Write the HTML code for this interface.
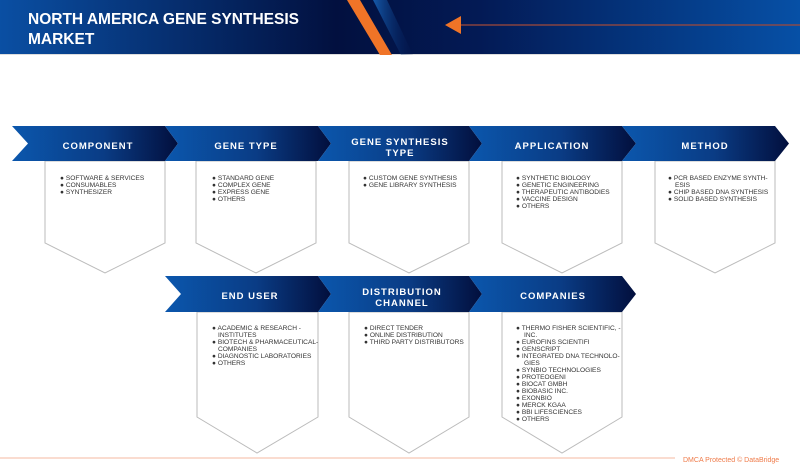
<!DOCTYPE html>
<html><head><meta charset="utf-8"><style>
html,body{margin:0;padding:0;background:#fff;}
svg{display:block;}
.h{font-family:"Liberation Sans",sans-serif;font-weight:bold;font-size:9.5px;fill:#fff;letter-spacing:1px;text-anchor:middle;}
.t{font-family:"Liberation Sans",sans-serif;font-size:6.6px;fill:#333;}
</style></head><body>
<svg width="800" height="473" viewBox="0 0 800 473" xmlns="http://www.w3.org/2000/svg">
<defs>
<linearGradient id="hd" x1="0" y1="0" x2="1" y2="0">
<stop offset="0" stop-color="#0a4fa3"/><stop offset="0.42" stop-color="#02103f"/><stop offset="0.6" stop-color="#031a55"/><stop offset="1" stop-color="#0650a6"/>
</linearGradient>
<linearGradient id="cg" x1="0" y1="0" x2="1" y2="0">
<stop offset="0" stop-color="#0b57ad"/><stop offset="0.55" stop-color="#0a3c85"/><stop offset="1" stop-color="#020f3d"/>
</linearGradient>
<linearGradient id="bs" x1="0" y1="0" x2="1" y2="0">
<stop offset="0" stop-color="#1a6cc4" stop-opacity="0.8"/><stop offset="1" stop-color="#031a55" stop-opacity="0.1"/>
</linearGradient>
</defs>
<rect x="0" y="0" width="800" height="54" fill="url(#hd)"/>
<line x1="0" y1="54.5" x2="800" y2="54.5" stroke="#ddd"/>
<polygon points="373,0 387,0 413,55 401,55" fill="url(#bs)"/>
<polygon points="347,0 360,0 392,55 380,55" fill="#f07427"/>
<polygon points="445,25 461,16 461,34" fill="#f07427"/>
<line x1="461" y1="25" x2="800" y2="25" stroke="#a24a3a" stroke-width="1.2"/>
<text x="28" y="24" font-family="Liberation Sans,sans-serif" font-weight="bold" font-size="15.5" fill="#fff">NORTH AMERICA GENE SYNTHESIS</text>
<text x="28" y="44" font-family="Liberation Sans,sans-serif" font-weight="bold" font-size="15.5" fill="#fff">MARKET</text>

<g fill="#fff" stroke="#bbb" stroke-width="1">
<polygon points="45,161 165,161 165,243 105,273 45,243"/>
<polygon points="196,161 316,161 316,243 256,273 196,243"/>
<polygon points="349,161 469,161 469,243 409,273 349,243"/>
<polygon points="502,161 622,161 622,243 562,273 502,243"/>
<polygon points="655,161 775,161 775,243 715,273 655,243"/>
<polygon points="197,312 318,312 318,417 257,453 197,417"/>
<polygon points="349,312 469,312 469,417 409,453 349,417"/>
<polygon points="502,312 622,312 622,417 562,453 502,417"/>
</g>
<g fill="url(#cg)">
<polygon points="12,126 165,126 178,143.5 165,161 12,161 28,143.5"/>
<polygon points="165,126 318,126 331,143.5 318,161 165,161 178,143.5"/>
<polygon points="318,126 469,126 482,143.5 469,161 318,161 331,143.5"/>
<polygon points="469,126 622,126 636,143.5 622,161 469,161 482,143.5"/>
<polygon points="622,126 775,126 789,143.5 775,161 622,161 636,143.5"/>
<polygon points="165,276 318,276 331,294 318,312 165,312 181,294"/>
<polygon points="318,276 469,276 482,294 469,312 318,312 331,294"/>
<polygon points="469,276 622,276 636,294 622,312 469,312 482,294"/>
</g>
<text class="h" x="98" y="149">COMPONENT</text>
<text class="h" x="246" y="149">GENE TYPE</text>
<text class="h" x="400" y="145">GENE SYNTHESIS</text>
<text class="h" x="400" y="156">TYPE</text>
<text class="h" x="552" y="149">APPLICATION</text>
<text class="h" x="705" y="149">METHOD</text>
<text class="h" x="250" y="299">END USER</text>
<text class="h" x="402" y="295">DISTRIBUTION</text>
<text class="h" x="402" y="306">CHANNEL</text>
<text class="h" x="553" y="299">COMPANIES</text>

<g class="t">
<text x="60" y="180">● SOFTWARE &amp; SERVICES</text>
<text x="60" y="187">● CONSUMABLES</text>
<text x="60" y="194">● SYNTHESIZER</text>

<text x="212" y="180">● STANDARD GENE</text>
<text x="212" y="187">● COMPLEX GENE</text>
<text x="212" y="194">● EXPRESS GENE</text>
<text x="212" y="201">● OTHERS</text>

<text x="363" y="180">● CUSTOM GENE SYNTHESIS</text>
<text x="363" y="187">● GENE LIBRARY SYNTHESIS</text>

<text x="516" y="180">● SYNTHETIC BIOLOGY</text>
<text x="516" y="187">● GENETIC ENGINEERING</text>
<text x="516" y="194">● THERAPEUTIC ANTIBODIES</text>
<text x="516" y="201">● VACCINE DESIGN</text>
<text x="516" y="208">● OTHERS</text>

<text x="668" y="180">● PCR BASED ENZYME SYNTH-</text>
<text x="675" y="187">ESIS</text>
<text x="668" y="194">● CHIP BASED DNA SYNTHESIS</text>
<text x="668" y="201">● SOLID BASED SYNTHESIS</text>

<text x="212" y="330">● ACADEMIC &amp; RESEARCH -</text>
<text x="218" y="337">INSTITUTES</text>
<text x="212" y="344">● BIOTECH &amp; PHARMACEUTICAL-</text>
<text x="218" y="351">COMPANIES</text>
<text x="212" y="358">● DIAGNOSTIC LABORATORIES</text>
<text x="212" y="365">● OTHERS</text>

<text x="364" y="330">● DIRECT TENDER</text>
<text x="364" y="337">● ONLINE DISTRIBUTION</text>
<text x="364" y="344">● THIRD PARTY DISTRIBUTORS</text>

<text x="516" y="330">● THERMO FISHER SCIENTIFIC, -</text>
<text x="524" y="337">INC.</text>
<text x="516" y="344">● EUROFINS SCIENTIFI</text>
<text x="516" y="351">● GENSCRIPT</text>
<text x="516" y="358">● INTEGRATED DNA TECHNOLO-</text>
<text x="524" y="365">GIES</text>
<text x="516" y="372">● SYNBIO TECHNOLOGIES</text>
<text x="516" y="379">● PROTEOGENI</text>
<text x="516" y="386">● BIOCAT GMBH</text>
<text x="516" y="393">● BIOBASIC INC.</text>
<text x="516" y="400">● EXONBIO</text>
<text x="516" y="407">● MERCK KGAA</text>
<text x="516" y="414">● BBI LIFESCIENCES</text>
<text x="516" y="421">● OTHERS</text>
</g>

<line x1="0" y1="458" x2="675" y2="458" stroke="#f4b9a0" stroke-width="1"/>
<text x="683" y="462" font-family="Liberation Sans,sans-serif" font-size="7" fill="#ef7b4a">DMCA Protected © DataBridge</text>
</svg>
</body></html>
